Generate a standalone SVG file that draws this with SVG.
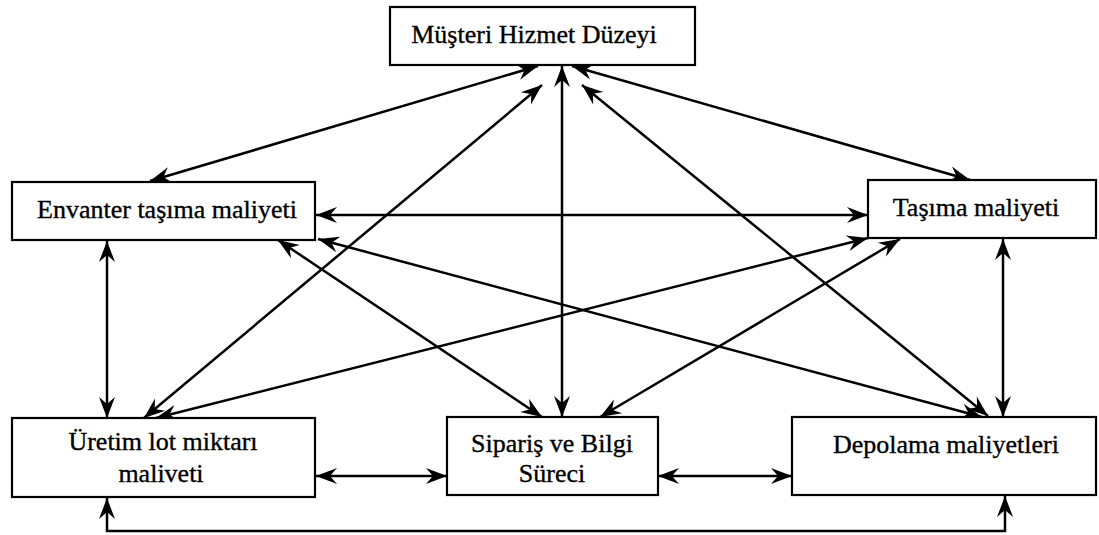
<svg xmlns="http://www.w3.org/2000/svg" width="1099" height="535" viewBox="0 0 1099 535">
  <style>
    .box { fill: #ffffff; stroke: #000000; stroke-width: 2.2; }
    .lbl { font-family: "Liberation Serif", "Times New Roman", serif; font-size: 26px; fill: #000000; stroke: #000000; stroke-width: 0.35; text-anchor: middle; }
    .link { fill: none; stroke: #000000; stroke-width: 2.5; marker-start: url(#ah); marker-end: url(#ah); }
  </style>
  <defs>
    <!-- barbed arrowhead, reversed automatically at the line start -->
    <marker id="ah" viewBox="-23 -10 25 20" refX="0" refY="0" markerWidth="25" markerHeight="20" orient="auto-start-reverse" markerUnits="userSpaceOnUse">
      <path d="M0,0 L-21,-8 L-14,0 L-21,8 Z" fill="#000000"/>
    </marker>
  </defs>

  <rect width="1099" height="535" fill="#ffffff"/>

  <g id="connectors">
    <!-- from Müşteri Hizmet Düzeyi -->
    <line class="link" x1="538" y1="66" x2="150" y2="181"/>
    <line class="link" x1="572" y1="66" x2="970" y2="180"/>
    <line class="link" x1="542" y1="85" x2="144" y2="418"/>
    <line class="link" x1="562" y1="66" x2="562" y2="417"/>
    <line class="link" x1="582" y1="85" x2="988" y2="416"/>
    <!-- from Envanter taşıma maliyeti -->
    <line class="link" x1="316" y1="215" x2="868" y2="215"/>
    <line class="link" x1="107" y1="241" x2="107" y2="418"/>
    <line class="link" x1="278" y1="240" x2="542" y2="417"/>
    <line class="link" x1="318" y1="239" x2="982" y2="417"/>
    <!-- from Taşıma maliyeti -->
    <line class="link" x1="868" y1="238" x2="156" y2="418"/>
    <line class="link" x1="900" y1="239" x2="600" y2="417"/>
    <line class="link" x1="1003" y1="239" x2="1003" y2="417"/>
    <!-- bottom row -->
    <line class="link" x1="316" y1="476" x2="447" y2="476"/>
    <line class="link" x1="658" y1="476" x2="792" y2="476"/>
    <path class="link" d="M107,498 V531 H1005 V496"/>
  </g>

  <g id="musteri-hizmet">
    <rect class="box" x="390" y="7" width="305" height="58"/>
    <text class="lbl" x="534" y="43">Müşteri Hizmet Düzeyi</text>
  </g>

  <g id="envanter">
    <rect class="box" x="12" y="182" width="303" height="58"/>
    <text class="lbl" x="167" y="218">Envanter taşıma maliyeti</text>
  </g>

  <g id="tasima">
    <rect class="box" x="868" y="180" width="228" height="58"/>
    <text class="lbl" x="976" y="216">Taşıma maliyeti</text>
  </g>

  <g id="uretim">
    <rect class="box" x="12" y="418" width="303" height="79"/>
    <text class="lbl" x="163" y="450">Üretim lot miktarı</text>
    <text class="lbl" x="161" y="482">maliveti</text>
  </g>

  <g id="siparis">
    <rect class="box" x="447" y="417" width="211" height="78"/>
    <text class="lbl" x="552" y="452">Sipariş ve Bilgi</text>
    <text class="lbl" x="552" y="482">Süreci</text>
  </g>

  <g id="depolama">
    <rect class="box" x="792" y="417" width="304" height="78"/>
    <text class="lbl" x="946" y="453">Depolama maliyetleri</text>
  </g>
</svg>
